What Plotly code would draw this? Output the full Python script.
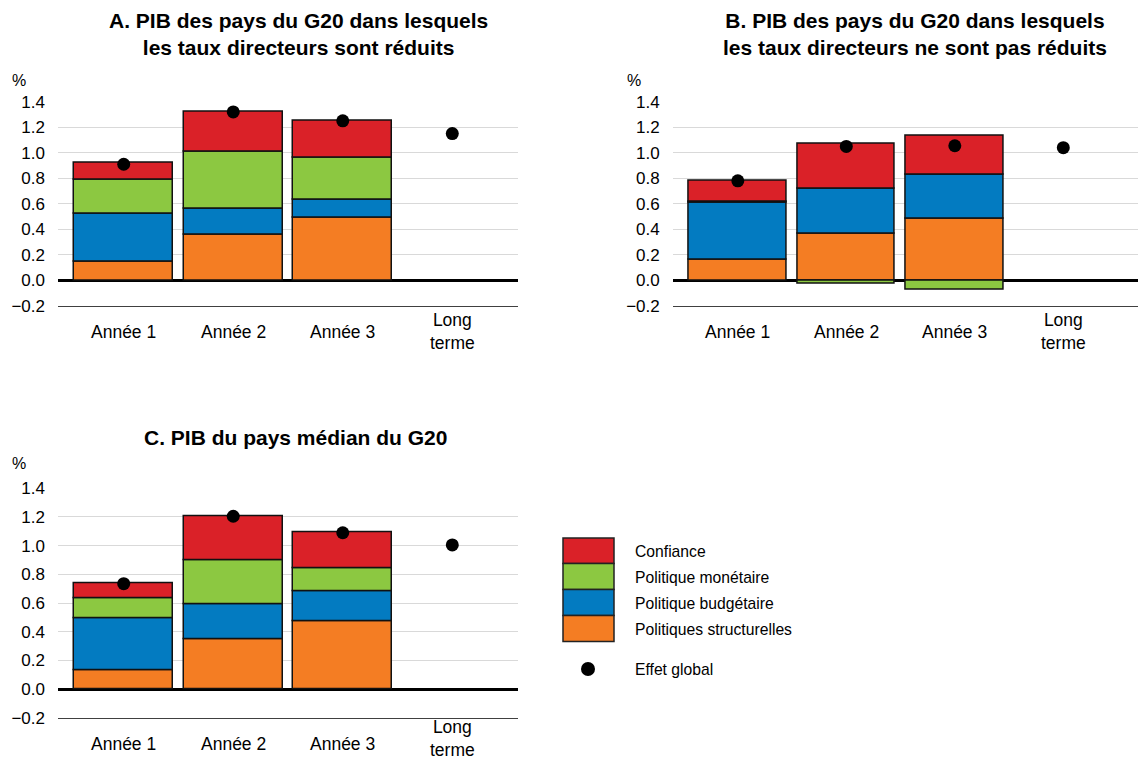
import plotly.graph_objects as go

W, H = 1146, 762
OFF_X, OFF_Y = 8, 8  # page body margin of the rendered html

categories = ["Année 1", "Année 2", "Année 3", "Long<br>terme"]
series_names = ["Politiques structurelles", "Politique budgétaire", "Politique monétaire", "Confiance"]
series_colors = ["#F47D23", "#037BC1", "#8CC841", "#DA2128"]
total_name = "Effet global"

# Panel A: G20 countries where policy rates are reduced
a_structurelles = [0.15, 0.36, 0.49]
a_budgetaire = [0.37, 0.20, 0.14]
a_monetaire = [0.27, 0.45, 0.33]
a_confiance = [0.13, 0.31, 0.29]
a_total = [0.91, 1.32, 1.25, 1.15]

# Panel B: G20 countries where policy rates are not reduced
b_structurelles = [0.16, 0.37, 0.48]
b_budgetaire = [0.45, 0.35, 0.35]
b_monetaire = [0.005, -0.025, -0.07]
b_confiance = [0.165, 0.35, 0.30]
b_total = [0.78, 1.05, 1.055, 1.04]

# Panel C: median G20 country
c_structurelles = [0.13, 0.345, 0.475]
c_budgetaire = [0.365, 0.245, 0.205]
c_monetaire = [0.135, 0.305, 0.165]
c_confiance = [0.105, 0.31, 0.25]
c_total = [0.735, 1.205, 1.09, 1.005]

titles = [
    "A. PIB des pays du G20 dans lesquels<br>les taux directeurs sont réduits",
    "B. PIB des pays du G20 dans lesquels<br>les taux directeurs ne sont pas réduits",
    "C. PIB du pays médian du G20",
]

panels = [
    ([a_structurelles, a_budgetaire, a_monetaire, a_confiance], a_total),
    ([b_structurelles, b_budgetaire, b_monetaire, b_confiance], b_total),
    ([c_structurelles, c_budgetaire, c_monetaire, c_confiance], c_total),
]


def px(x):
    return (x - OFF_X) / W


def py(y):
    return 1 - (y - OFF_Y) / H


fig = go.Figure()
axis_ids = ["", "2", "3"]
for p, (stack, total) in enumerate(panels):
    xa = "x" + axis_ids[p]
    ya = "y" + axis_ids[p]
    xpos = list(range(len(stack[0])))
    for name, color, vals in zip(series_names, series_colors, stack):
        fig.add_trace(go.Bar(
            x=xpos, y=vals, name=name, width=0.9,
            marker=dict(color=color, line=dict(color="#111111", width=1.5)),
            xaxis=xa, yaxis=ya, showlegend=False,
        ))
    fig.add_trace(go.Scatter(
        x=list(range(len(total))), y=total, mode="markers", name=total_name,
        marker=dict(color="black", size=13), xaxis=xa, yaxis=ya,
        showlegend=False, cliponaxis=False,
    ))

# geometry (pixels in the final picture)
xdom = [(58, 518), (672.7, 1154), (58, 518)]
ydom = [(306, 101.7), (306, 101.7), (717.7, 488.3)]
xrange_ = [(-0.6, 3.6), (-0.6, 3.836), (-0.6, 3.6)]

layout = dict(
    width=W, height=H, margin=dict(l=0, r=0, t=0, b=0, autoexpand=False),
    paper_bgcolor="white", plot_bgcolor="white",
    barmode="relative", bargap=0,
    font=dict(family="Liberation Sans, Arial, sans-serif", color="black"),
    showlegend=False, template="none",
)
for p in range(3):
    layout["xaxis" + axis_ids[p]] = dict(
        domain=[max(0, px(xdom[p][0])), min(1, px(xdom[p][1]))], range=list(xrange_[p]),
        showticklabels=False, showgrid=False, zeroline=False,
        showline=True, linecolor="#404040", linewidth=1, ticks="",
        anchor="y" + axis_ids[p], fixedrange=True, automargin=False,
    )
    layout["yaxis" + axis_ids[p]] = dict(
        domain=[py(ydom[p][0]), py(ydom[p][1])], range=[-0.2, 1.4],
        tick0=0, dtick=0.2, tickformat=".1f",
        showgrid=True, gridcolor="#d9d9d9", gridwidth=1,
        zeroline=True, zerolinecolor="black", zerolinewidth=3,
        showline=False,
        tickfont=dict(size=17, color="black"), ticks="", ticklabelstandoff=12,
        anchor="x" + axis_ids[p], fixedrange=True, automargin=False,
    )
fig.update_layout(**layout)

annotations = []
# titles
title_pos = [(298, 34), (915, 34), (295, 437)]
for t, (tx, ty) in zip(titles, title_pos):
    annotations.append(dict(
        text="<b>" + t + "</b>", x=px(tx), y=py(ty), xref="paper", yref="paper",
        xanchor="center", yanchor="middle", showarrow=False,
        font=dict(size=21, color="black"), align="center",
    ))
# % labels
for (tx, ty) in [(19, 81), (634, 81), (19, 463)]:
    annotations.append(dict(
        text="%", x=px(tx), y=py(ty), xref="paper", yref="paper",
        xanchor="center", yanchor="middle", showarrow=False,
        font=dict(size=16, color="black"),
    ))
# category labels
cat_y = [[331.5] * 4, [331.5] * 4, [744, 744, 744, 738]]
for p in range(3):
    for i, c in enumerate(categories):
        annotations.append(dict(
            text=c, x=i, y=py(cat_y[p][i]), xref="x" + axis_ids[p], yref="paper",
            xanchor="center", yanchor="middle", showarrow=False,
            font=dict(size=17.5, color="black"), align="center",
        ))

# custom legend
shapes = []
leg_edges = [538, 563.5, 589.5, 615.5, 641.5]
leg_order = list(reversed(range(len(series_names))))  # Confiance first
for k, si in enumerate(leg_order):
    y0, y1 = leg_edges[k], leg_edges[k + 1]
    shapes.append(dict(
        type="rect", xref="paper", yref="paper",
        x0=px(563), x1=px(614), y0=py(y1), y1=py(y0),
        fillcolor=series_colors[si], line=dict(color="#222222", width=1.5),
    ))
    annotations.append(dict(
        text=series_names[si], x=px(633), y=py((y0 + y1) / 2 + 1),
        xref="paper", yref="paper", xanchor="left", yanchor="middle",
        showarrow=False, font=dict(size=15.7, color="black"),
    ))
r = 7
shapes.append(dict(
    type="circle", xref="paper", yref="paper",
    x0=px(588 - r), x1=px(588 + r), y0=py(669 + r), y1=py(669 - r),
    fillcolor="black", line=dict(color="black", width=0),
))
annotations.append(dict(
    text=total_name, x=px(633), y=py(669), xref="paper", yref="paper",
    xanchor="left", yanchor="middle", showarrow=False,
    font=dict(size=15.7, color="black"),
))

fig.update_layout(annotations=annotations, shapes=shapes)
fig.write_html("out.html")
